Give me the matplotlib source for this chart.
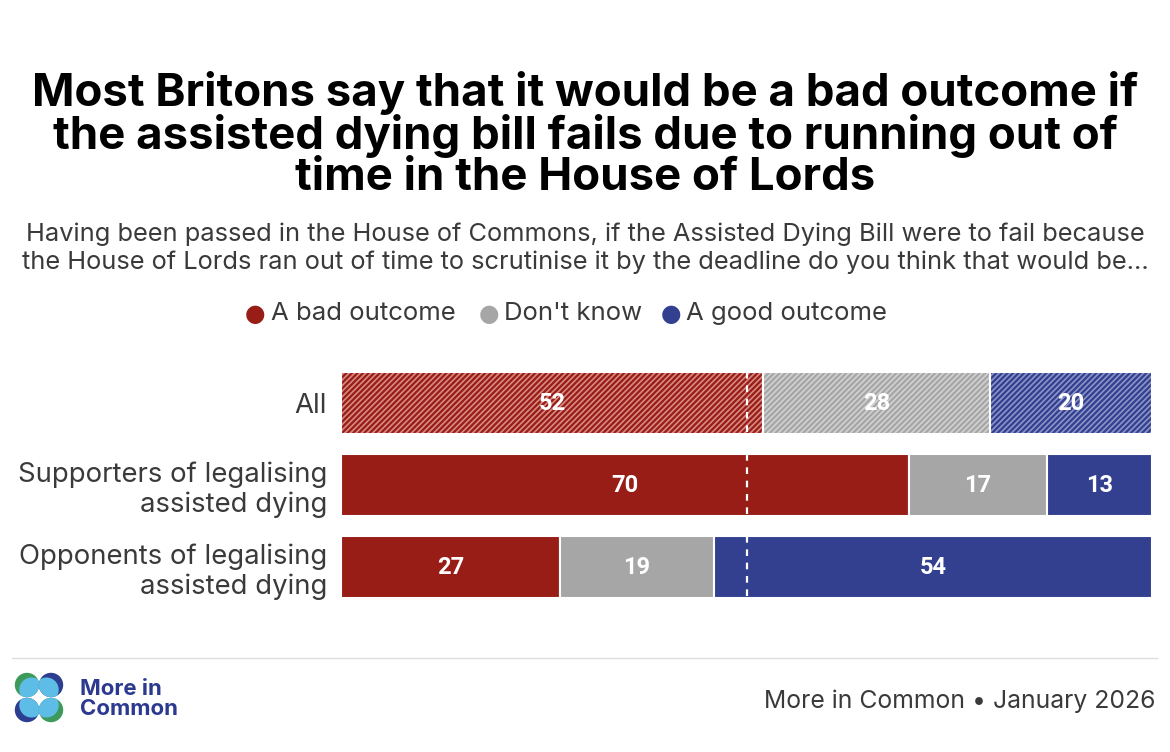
import matplotlib
matplotlib.use("Agg")
import matplotlib.pyplot as plt
from matplotlib.patches import Circle
import numpy as np

W, H = 1170, 752
categories = ["All", "Supporters of legalising\nassisted dying", "Opponents of legalising\nassisted dying"]
bad = [52, 70, 27]
dont_know = [28, 17, 19]
good = [20, 13, 54]
series_names = ["A bad outcome", "Don't know", "A good outcome"]
colors = ["#971D16", "#A6A6A6", "#334090"]
hatch_colors = ["#D98A85", "#D2D2D2", "#8C95C8"]
hatched_rows = [0]

title = ("Most Britons say that it would be a bad outcome if\n"
         "the assisted dying bill fails due to running out of\n"
         "time in the House of Lords")
subtitle = ("Having been passed in the House of Commons, if the Assisted Dying Bill were to fail because\n"
            "the House of Lords ran out of time to scrutinise it by the deadline do you think that would be...")
source = "More in Common \u2022 January 2026"

BODY = ['Inter', 'DejaVu Sans']
plt.rcParams['font.family'] = BODY
plt.rcParams['hatch.linewidth'] = 1.2

fig = plt.figure(figsize=(W / 100, H / 100), dpi=100)
fig.patch.set_facecolor("white")

def fx(px):
    return px / W

def fy(py):
    return 1 - py / H

TXT = "#3A3A3A"

# Title and subtitle
fig.text(fx(585), fy(135), title, ha="center", va="center", fontsize=32.8,
         fontweight="bold", color="black", linespacing=0.98)
fig.text(fx(585), fy(248), subtitle, ha="center", va="center", fontsize=18.3,
         color=TXT, linespacing=1.25)

# Legend
leg_items = [(255, 271), (489, 504), (671, 686)]
for (cx, tx), name, c in zip(leg_items, series_names, colors):
    fig.text(fx(cx), fy(314), "\u25CF", ha="center", va="center", fontsize=17,
             color=c, family=['DejaVu Sans'])
    fig.text(fx(tx), fy(313), name, ha="left", va="center", fontsize=18.5,
             color=TXT)

# Main axes
top_px, bot_px = 362, 608
ax = fig.add_axes([fx(341), fy(bot_px), fx(1152) - fx(341), (bot_px - top_px) / H])
y = np.arange(len(categories))
bh = 0.756
left = np.zeros(len(categories))
for vals, c, hc in zip([bad, dont_know, good], colors, hatch_colors):
    vals = np.array(vals, dtype=float)
    for i in range(len(categories)):
        if i in hatched_rows:
            ax.barh(y[i], vals[i], left=left[i], height=bh, color=c,
                    edgecolor=hc, linewidth=0, hatch="//////")
            ax.barh(y[i], vals[i], left=left[i], height=bh, fill=False,
                    edgecolor="white", linewidth=1.5)
        else:
            ax.barh(y[i], vals[i], left=left[i], height=bh, color=c,
                    edgecolor="white", linewidth=1.5)
        ax.text(left[i] + vals[i] / 2, y[i], f"{int(vals[i])}", ha="center",
                va="center", color="white", fontsize=17, fontweight="bold",
                family=['Roboto', 'DejaVu Sans'])
    left += vals

for i in range(len(categories)):
    ax.vlines(50, y[i] - bh / 2, y[i] + bh / 2, colors="white",
              linestyles=(0, (3, 3)), linewidth=1.6, zorder=5)

ax.set_xlim(0, 100)
ax.set_ylim(len(categories) - 0.5, -0.5)
ax.set_yticks(y)
ax.set_yticklabels(categories, fontsize=19.8, color=TXT,
                   linespacing=1.18, ha="right")
ax.tick_params(axis="y", length=0, pad=10)
ax.set_xticks([])
for s in ax.spines.values():
    s.set_visible(False)

# Footer line
fig.add_artist(plt.Line2D([fx(12), fx(1157)], [fy(658), fy(658)], color="#DDDDDD", lw=1))
fig.text(fx(1155), fy(701), source, ha="right", va="center", fontsize=17.8,
         color=TXT)

# Logo
lax = fig.add_axes([fx(12), fy(727), fx(56), 56 / H])
lax.set_xlim(0, 56)
lax.set_ylim(0, 56)
lax.set_aspect("equal")
lax.axis("off")
r = 12.2
centers = [(15, 42, "#3D9A5A"), (39, 42, "#2D3E91"), (15, 17, "#2D3E91"), (39, 17, "#3D9A5A")]
mid = (27, 29.5)
for cx, cy, c in centers:
    base = Circle((cx, cy), r, color=c, lw=0)
    lax.add_patch(base)
    dx, dy = mid[0] - cx, mid[1] - cy
    n = np.hypot(dx, dy)
    off = 6.5
    inner = Circle((cx + dx / n * off, cy + dy / n * off), r, color="#5DBDE6", lw=0)
    lax.add_patch(inner)
    inner.set_clip_path(base)
fig.text(fx(80), fy(699), "More in\nCommon", ha="left", va="center", fontsize=16,
         fontweight="bold", color="#2B3990", linespacing=0.95)

fig.savefig("out.png", dpi=100, facecolor="white")
